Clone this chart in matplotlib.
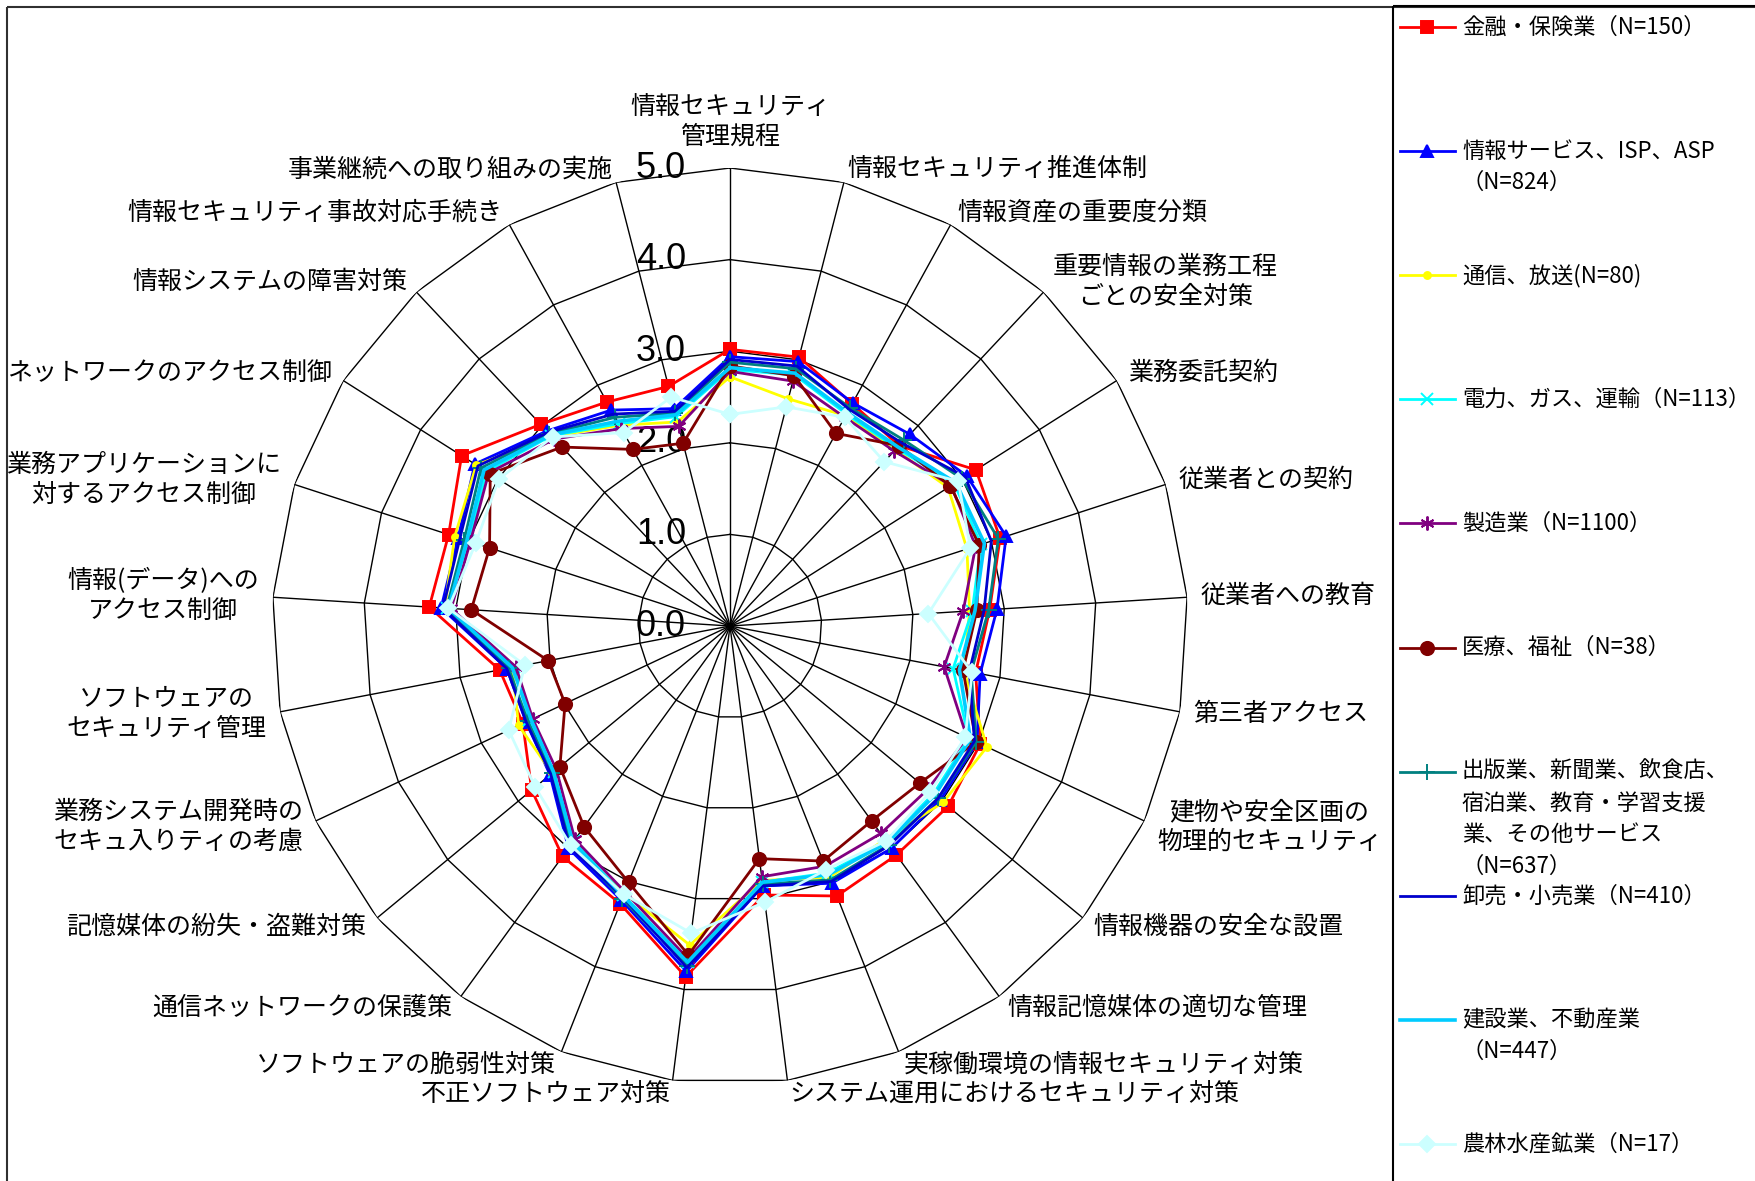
import numpy as np
import matplotlib.pyplot as plt
from matplotlib.patches import Rectangle

plt.rcParams['font.family'] = ['Noto Sans CJK JP', 'DejaVu Sans']

categories = [
    "情報セキュリティ\n管理規程", "情報セキュリティ推進体制", "情報資産の重要度分類",
    "重要情報の業務工程\nごとの安全対策", "業務委託契約", "従業者との契約", "従業者への教育",
    "第三者アクセス", "建物や安全区画の\n物理的セキュリティ", "情報機器の安全な設置",
    "情報記憶媒体の適切な管理", "実稼働環境の情報セキュリティ対策",
    "システム運用におけるセキュリティ対策", "不正ソフトウェア対策", "ソフトウェアの脆弱性対策",
    "通信ネットワークの保護策", "記憶媒体の紛失・盗難対策",
    "業務システム開発時の\nセキュ入りティの考慮", "ソフトウェアの\nセキュリティ管理",
    "情報(データ)への\nアクセス制御", "業務アプリケーションに\n対するアクセス制御",
    "ネットワークのアクセス制御", "情報システムの障害対策",
    "情報セキュリティ事故対応手続き", "事業継続への取り組みの実施",
]

finance = [3.02, 3.03, 2.77, 2.70, 3.18, 3.10, 2.84, 2.73, 3.02, 3.09, 3.09, 3.17, 2.96,
           3.86, 3.26, 3.11, 2.81, 2.50, 2.56, 3.29, 3.23, 3.47, 3.02, 2.79, 2.70]
info_service = [2.94, 2.98, 2.78, 2.87, 3.06, 3.17, 2.92, 2.78, 2.98, 2.98, 3.00, 3.02, 2.86,
                3.80, 3.22, 3.00, 2.55, 2.46, 2.48, 3.16, 3.12, 3.30, 2.92, 2.69, 2.45]
telecom = [2.72, 2.56, 2.62, 2.64, 2.82, 2.72, 2.62, 2.60, 3.10, 3.02, 2.88, 2.95, 2.80,
           3.51, 3.14, 2.94, 2.52, 2.55, 2.42, 3.12, 3.16, 3.28, 2.84, 2.50, 2.30]
energy = [2.80, 2.83, 2.64, 2.66, 2.90, 2.88, 2.65, 2.48, 2.88, 2.88, 2.90, 2.90, 2.82,
          3.70, 3.16, 2.90, 2.50, 2.42, 2.40, 3.10, 3.00, 3.15, 2.85, 2.52, 2.36]
manufacturing = [2.78, 2.76, 2.60, 2.62, 2.86, 2.82, 2.55, 2.38, 2.86, 2.80, 2.80, 2.82, 2.76,
                 3.66, 3.12, 2.88, 2.46, 2.38, 2.38, 3.05, 2.98, 3.12, 2.80, 2.46, 2.25]
medical = [2.84, 2.82, 2.40, 2.70, 2.85, 2.86, 2.70, 2.59, 2.97, 2.69, 2.63, 2.76, 2.56,
           3.62, 3.01, 2.71, 2.41, 1.99, 2.02, 2.83, 2.76, 3.10, 2.68, 2.20, 2.06]
publishing = [2.88, 2.90, 2.72, 2.78, 3.00, 3.08, 2.83, 2.68, 2.97, 2.95, 2.95, 2.98, 2.84,
              3.74, 3.20, 2.96, 2.52, 2.44, 2.46, 3.10, 3.05, 3.22, 2.88, 2.60, 2.40]
retail = [2.91, 2.93, 2.70, 2.74, 3.04, 3.00, 2.78, 2.66, 2.95, 2.95, 2.96, 3.00, 2.86,
          3.76, 3.18, 2.98, 2.54, 2.46, 2.48, 3.14, 3.10, 3.26, 2.90, 2.64, 2.42]
construction = [2.82, 2.85, 2.66, 2.68, 2.92, 2.92, 2.68, 2.55, 2.90, 2.90, 2.92, 2.92, 2.82,
                3.70, 3.17, 2.92, 2.50, 2.40, 2.42, 3.08, 3.02, 3.18, 2.86, 2.55, 2.38]
agriculture = [2.31, 2.47, 2.60, 2.46, 2.95, 2.76, 2.17, 2.69, 2.84, 2.84, 2.90, 2.86, 3.04,
               3.38, 3.15, 2.96, 2.76, 2.67, 2.28, 3.08, 2.92, 2.99, 2.83, 2.41, 2.58]

series = [
    ("金融・保険業（N=150）", finance, "#FF0000", "s", 9, 2.0),
    ("情報サービス、ISP、ASP\n（N=824）", info_service, "#0000FF", "^", 9, 2.0),
    ("通信、放送(N=80)", telecom, "#FFFF00", "o", 5, 2.0),
    ("電力、ガス、運輸（N=113）", energy, "#00FFFF", "x", 9, 2.0),
    ("製造業（N=1100）", manufacturing, "#800080", (6, 2, 0), 10, 2.0),
    ("医療、福祉（N=38）", medical, "#800000", "o", 9.5, 2.0),
    ("出版業、新聞業、飲食店、\n宿泊業、教育・学習支援\n業、その他サービス\n（N=637）",
     publishing, "#008080", "+", 11, 2.0),
    ("卸売・小売業（N=410）", retail, "#0000CC", None, 0, 2.0),
    ("建設業、不動産業\n（N=447）", construction, "#00CCFF", None, 0, 2.6),
    ("農林水産鉱業（N=17）", agriculture, "#CCFFFF", "D", 8, 2.0),
]

W, H = 1756, 1181
fig = plt.figure(figsize=(W / 100, H / 100), dpi=100)
fig.patch.set_facecolor("white")

# radar area: centre (730, 626) px, radius 458 px
cx, cy, rad = 730, 626, 458
ax = fig.add_axes([(cx - rad) / W, (H - cy - rad) / H, 2 * rad / W, 2 * rad / H],
                  projection="polar")
ax.set_theta_offset(np.pi / 2)
ax.set_theta_direction(-1)
ax.set_ylim(0, 5)
ax.grid(False)
ax.set_xticks([])
ax.set_yticks([])
ax.spines["polar"].set_visible(False)
ax.patch.set_alpha(0)

n = len(categories)
theta = np.arange(n) * 2 * np.pi / n
closed = np.append(theta, theta[0])

# polygon grid and spokes
for r in range(1, 6):
    ax.plot(closed, [r] * (n + 1), color="black", lw=1.0, zorder=1)
for t in theta:
    ax.plot([t, t], [0, 5], color="black", lw=1.0, zorder=1)

for v in range(6):
    ax.annotate(f"{v:.1f}", xy=(0, v), xytext=(-44, 0), textcoords="offset pixels",
                ha="right", va="center", fontsize=26, family="Liberation Sans",
                color="black", zorder=2)

for t, lab in zip(theta, categories):
    sx = np.sin(t)
    if abs(sx) < 0.05:
        ax.text(t, 5.2, lab, ha="center", va="bottom", fontsize=18,
                multialignment="center", linespacing=1.2)
    else:
        ax.text(t, 5.15, lab, ha="left" if sx > 0 else "right", va="center",
                fontsize=18, multialignment="center", linespacing=1.2)

for k, (name, vals, col, mk, ms, lw) in enumerate(series):
    v = np.append(vals, vals[0])
    ax.plot(closed, v, color=col, lw=lw, marker=mk, markersize=ms,
            markeredgewidth=1.4, markerfacecolor=col, markeredgecolor=col,
            zorder=3 + k, clip_on=False)

# frame and legend box drawn in pixel coordinates
ov = fig.add_axes([0, 0, 1, 1])
ov.set_xlim(0, W)
ov.set_ylim(H, 0)
ov.axis("off")
ov.patch.set_alpha(0)
ov.add_patch(Rectangle((7, 7), W + 20, H + 20, fill=False, ec="#303030", lw=1.5))
ov.add_patch(Rectangle((1393, 6), W, H + 20, fill=False, ec="black", lw=1.5))

y0, step, gap = 27, 124.1, 31.5
for k, (name, vals, col, mk, ms, lw) in enumerate(series):
    y = y0 + step * k
    ov.plot([1400, 1455], [y, y], color=col, lw=lw)
    if mk is not None:
        ov.plot([1427], [y], color=col, marker=mk, markersize=ms, markeredgewidth=1.4,
                markerfacecolor=col, markeredgecolor=col)
    for j, line in enumerate(name.split("\n")):
        ov.text(1462, y + j * gap, line, ha="left", va="center", fontsize=16)

fig.savefig("out.png", dpi=100)
